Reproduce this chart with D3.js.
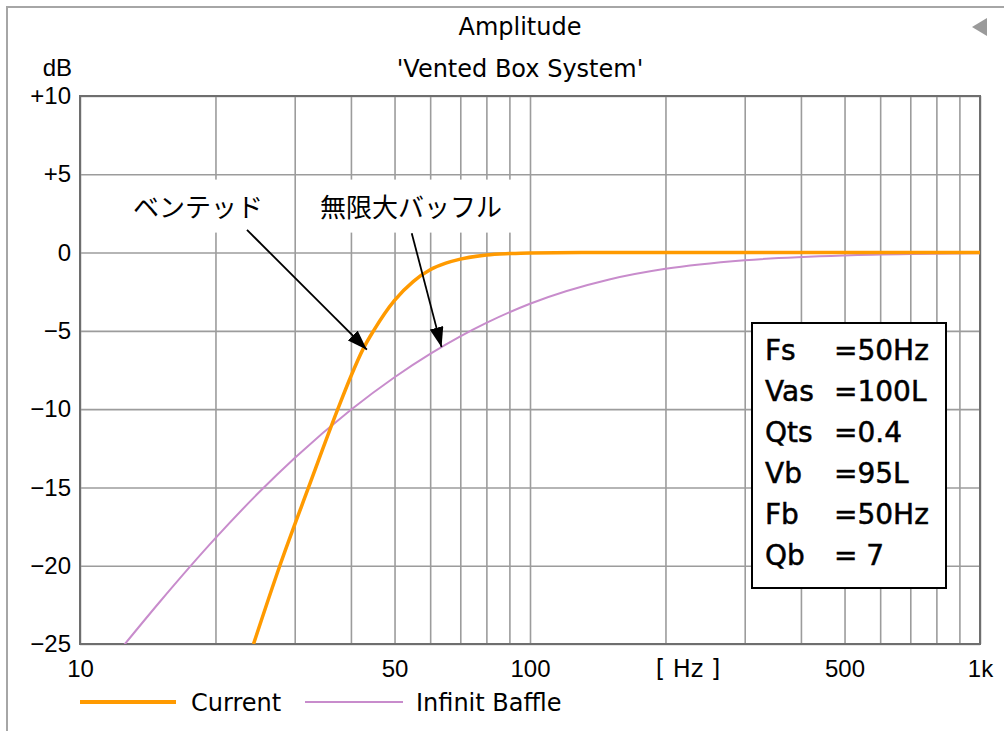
<!DOCTYPE html>
<html>
<head>
<meta charset="utf-8">
<script src="https://cdn.jsdelivr.net/npm/d3@7"></script>
<style>
  body { margin: 0; background: #fff; }
  svg { display: block; }
</style>
</head>
<body>
<svg id="chart" width="1004" height="731"></svg>
<script>
// frequencies in Hz, levels in dB
const currentFreq = [24.3, 27.8, 32.2, 37.4, 40, 42.5, 45, 47.5, 50, 55, 60, 65, 70, 80, 90, 100, 150, 1000];
const currentDb   = [-25, -20, -15, -10, -7.9, -6.2, -4.95, -3.9, -3.05, -1.85, -1.1, -0.68, -0.42, -0.15, -0.06, -0.02, 0, 0];

const baffleFreq = [12.5, 15, 20, 25, 30, 40, 50, 60, 70, 80, 100, 150, 200, 300, 500, 700, 1000];
const baffleDb   = [-25.1, -22.35, -18.24, -15.31, -13.12, -10.04, -7.96, -6.47, -5.35, -4.49, -3.27, -1.72, -1.04, -0.49, -0.18, -0.09, -0.05];

const yTicks = [10, 5, 0, -5, -10, -15, -20, -25];
const yTickLabels = ['+10', '+5', '0', '\u22125', '\u221210', '\u221215', '\u221220', '\u221225'];
const xTicks = [10, 50, 100, 500, 1000];
const xTickLabels = ['10', '50', '100', '500', '1k'];
const xGridFreqs = [10, 20, 30, 40, 50, 60, 70, 80, 90, 100, 200, 300, 400, 500, 600, 700, 800, 900, 1000];

const seriesNames = ['Current', 'Infinit Baffle'];

const paramNames = ['Fs', 'Vas', 'Qts', 'Vb', 'Fb', 'Qb'];
const paramValues = ['=50Hz', '=100L', '=0.4', '=95L', '=50Hz', '= 7'];

// annotation anchors in data units (Hz, dB)
const noteLabels = ['ベンテッド', '無限大バッフル'];
const noteLabelAt = [[18.3, 3.0], [54.4, 3.0]];
const noteTail = [[23.5, 1.45], [54.6, 1.24]];
const noteTip = [[43.4, -6.2], [63.6, -6.04]];

const svg = d3.select('#chart');
const plotL = 80, plotR = 980, plotT = 96, plotB = 644;
const orange = '#ff9a00', purple = '#c88ccc';
const labelFont = '"DejaVu Sans", sans-serif';
const digitFont = '"Liberation Sans", Arial, sans-serif';

const x = d3.scaleLog().domain([10, 1000]).range([plotL, plotR]);
const y = d3.scaleLinear().domain([-25, 10]).range([plotB, plotT]);

svg.append('rect').attr('width', 1004).attr('height', 731).attr('fill', '#fff');

// outer panel frame (only top and left edges are visible)
svg.append('path')
  .attr('d', 'M7,731 L7,7 L1004,7')
  .attr('fill', 'none').attr('stroke', '#a6a6a6').attr('stroke-width', 2);

svg.append('path')
  .attr('d', 'M972,27 L987,18 L987,36 Z')
  .attr('fill', '#9a9a9a');

svg.append('text')
  .attr('x', 520).attr('y', 35)
  .attr('text-anchor', 'middle')
  .style('font-family', labelFont).style('font-size', '24px')
  .text('Amplitude');

svg.append('text')
  .attr('x', 520).attr('y', 77)
  .attr('text-anchor', 'middle')
  .style('font-family', labelFont).style('font-size', '24px')
  .text("'Vented Box System'");

svg.append('text')
  .attr('x', 72).attr('y', 76)
  .attr('text-anchor', 'end')
  .style('font-family', digitFont).style('font-size', '24px')
  .text('dB');

// grid
svg.append('g')
  .attr('transform', `translate(0,${plotB})`)
  .call(d3.axisBottom(x).tickValues(xGridFreqs).tickSize(-(plotB - plotT)).tickFormat(''))
  .call(g => g.select('.domain').remove())
  .call(g => g.selectAll('line').attr('stroke', '#9c9c9c').attr('stroke-width', 1.6));

svg.append('g')
  .attr('transform', `translate(${plotL},0)`)
  .call(d3.axisLeft(y).tickValues(yTicks).tickSize(-(plotR - plotL)).tickFormat(''))
  .call(g => g.select('.domain').remove())
  .call(g => g.selectAll('line').attr('stroke', '#9c9c9c').attr('stroke-width', 1.6));

svg.append('rect')
  .attr('x', plotL).attr('y', plotT)
  .attr('width', plotR - plotL).attr('height', plotB - plotT)
  .attr('fill', 'none').attr('stroke', '#6e6e6e').attr('stroke-width', 2);

// tick labels
svg.append('g')
  .attr('transform', `translate(0,${plotB})`)
  .call(d3.axisBottom(x).tickValues(xTicks).tickSize(0).tickPadding(16)
    .tickFormat((d, i) => xTickLabels[i]))
  .call(g => g.select('.domain').remove())
  .call(g => g.selectAll('text').attr('fill', '#000')
    .style('font-family', digitFont).style('font-size', '24px'));

svg.append('text')
  .attr('x', 688).attr('y', 677)
  .attr('text-anchor', 'middle')
  .style('font-family', labelFont).style('font-size', '24px')
  .text('[ Hz ]');

svg.append('g')
  .attr('transform', `translate(${plotL},0)`)
  .call(d3.axisLeft(y).tickValues(yTicks).tickSize(0).tickPadding(9)
    .tickFormat((d, i) => yTickLabels[i]))
  .call(g => g.select('.domain').remove())
  .call(g => g.selectAll('text').attr('fill', '#000')
    .style('font-family', digitFont).style('font-size', '24px'));

// curves
svg.append('clipPath').attr('id', 'plot-clip')
  .append('rect')
  .attr('x', plotL).attr('y', plotT)
  .attr('width', plotR - plotL).attr('height', plotB - plotT);

const line = d3.line()
  .x(d => x(d[0]))
  .y(d => y(d[1]))
  .curve(d3.curveMonotoneX);

const plot = svg.append('g').attr('clip-path', 'url(#plot-clip)');

plot.append('path')
  .datum(baffleFreq.map((f, i) => [f, baffleDb[i]]))
  .attr('d', line)
  .attr('fill', 'none').attr('stroke', purple).attr('stroke-width', 2);

plot.append('path')
  .datum(currentFreq.map((f, i) => [f, currentDb[i]]))
  .attr('d', line)
  .attr('fill', 'none').attr('stroke', orange).attr('stroke-width', 3.5);

// annotations
svg.append('defs').append('marker')
  .attr('id', 'arrow')
  .attr('viewBox', '0 0 20 14')
  .attr('refX', 20).attr('refY', 7)
  .attr('markerWidth', 20).attr('markerHeight', 14)
  .attr('markerUnits', 'userSpaceOnUse')
  .attr('orient', 'auto')
  .append('path')
  .attr('d', 'M0,0 L20,7 L0,14 Z')
  .attr('fill', '#000');

const boxHalfWidth = [71, 100];
noteLabels.forEach((label, i) => {
  const cx = x(noteLabelAt[i][0]);
  const cy = y(noteLabelAt[i][1]);
  svg.append('rect')
    .attr('x', cx - boxHalfWidth[i]).attr('y', cy - 26)
    .attr('width', boxHalfWidth[i] * 2).attr('height', 53)
    .attr('fill', '#fff');
  svg.append('text')
    .attr('x', cx).attr('y', cy)
    .attr('text-anchor', 'middle')
    .attr('dominant-baseline', 'central')
    .style('font-family', '"Noto Sans CJK JP", sans-serif')
    .style('font-size', '26px')
    .text(label);
  svg.append('line')
    .attr('x1', x(noteTail[i][0])).attr('y1', y(noteTail[i][1]))
    .attr('x2', x(noteTip[i][0])).attr('y2', y(noteTip[i][1]))
    .attr('stroke', '#000').attr('stroke-width', 1.8)
    .attr('marker-end', 'url(#arrow)');
});

// parameter box
const pbox = svg.append('g');
pbox.append('rect')
  .attr('x', 752).attr('y', 323)
  .attr('width', 194).attr('height', 265)
  .attr('fill', '#fff').attr('stroke', '#000').attr('stroke-width', 2);

paramNames.forEach((name, i) => {
  pbox.append('text')
    .attr('x', 765).attr('y', 360 + i * 41)
    .attr('stroke', '#000').attr('stroke-width', 0.5)
    .style('font-family', labelFont).style('font-size', '28px')
    .text(name);
  pbox.append('text')
    .attr('x', 834).attr('y', 360 + i * 41)
    .attr('stroke', '#000').attr('stroke-width', 0.5)
    .style('font-family', labelFont).style('font-size', '28px')
    .text(paramValues[i]);
});

// legend
const legendX = [[80, 176], [305, 403]];
const legendTextX = [191, 416];
const legendWidth = [4, 2];
[orange, purple].forEach((c, i) => {
  svg.append('line')
    .attr('x1', legendX[i][0]).attr('x2', legendX[i][1])
    .attr('y1', 702).attr('y2', 702)
    .attr('stroke', c).attr('stroke-width', legendWidth[i]);
  svg.append('text')
    .attr('x', legendTextX[i]).attr('y', 711)
    .style('font-family', labelFont).style('font-size', '24px')
    .text(seriesNames[i]);
});
</script>
</body>
</html>
